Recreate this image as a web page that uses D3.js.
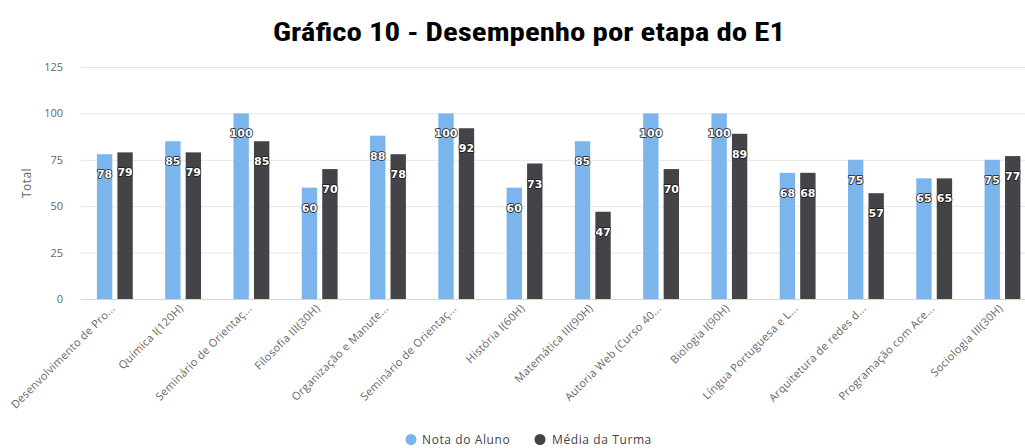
<!DOCTYPE html>
<html>
<head>
<meta charset="utf-8">
<script src="https://cdn.jsdelivr.net/npm/d3@7"></script>
<style>
  html, body { margin: 0; padding: 0; background: #fff; }
  svg { display: block; }
</style>
</head>
<body>
<svg id="chart" width="1025" height="448"></svg>
<script>
// Subjects of stage E1 (names truncated as displayed)
const categories = [
  "Desenvolvimento de Pro...", "Química I(120H)", "Seminário de Orientaç...",
  "Filosofia III(30H)", "Organização e Manute...", "Seminário de Orientaç...",
  "História I(60H)", "Matemática III(90H)", "Autoria Web (Curso 40...",
  "Biologia I(90H)", "Língua Portuguesa e L...", "Arquitetura de redes d...",
  "Programação com Ace...", "Sociologia III(30H)"
];
const notaAluno   = [78, 85, 100, 60, 88, 100, 60, 85, 100, 100, 68, 75, 65, 75];
const mediaTurma  = [79, 79, 85, 70, 78, 92, 73, 47, 70, 89, 68, 57, 65, 77];
const seriesNames = ["Nota do Aluno", "Média da Turma"];
const yTicks = [0, 25, 50, 75, 100, 125];

const colors = ["#7cb5ec", "#434348"];
const series = [notaAluno, mediaTurma];

const svg = d3.select("#chart");
const W = 1025, H = 448;

// plot area
const plotLeft = 80.7, band = 68.28;
const plotTop = 67, plotBottom = 299;
const plotRight = plotLeft + band * categories.length;

const x = d3.scaleBand()
  .domain(d3.range(categories.length))
  .range([plotLeft, plotRight])
  .padding(0);

const inner = d3.scaleBand()
  .domain(d3.range(series.length))
  .range([band * 0.2, band * 0.8])
  .paddingInner(0.25)
  .paddingOuter(0.125);

const y = d3.scaleLinear().domain([0, 125]).range([plotBottom, plotTop]);

// title
svg.append("text")
  .attr("x", 529).attr("y", 41)
  .attr("text-anchor", "middle")
  .attr("font-family", "'Liberation Sans Narrow', 'Roboto Condensed', 'Roboto', sans-serif")
  .attr("font-weight", "bold")
  .attr("font-size", 25)
  .attr("fill", "#000")
  .attr("textLength", 512)
  .attr("lengthAdjust", "spacingAndGlyphs")
  .text("Gráfico 10 - Desempenho por etapa do E1");

// grid lines
svg.append("g").selectAll("line")
  .data(yTicks.filter(t => t > 0))
  .join("line")
  .attr("x1", plotLeft).attr("x2", W)
  .attr("y1", d => y(d) + 0.5).attr("y2", d => y(d) + 0.5)
  .attr("stroke", "#e6e6e6").attr("stroke-width", 1);

// y axis labels
const yAxis = d3.axisLeft(y).tickValues(yTicks).tickSize(0).tickPadding(0);
const gy = svg.append("g").attr("transform", `translate(63,0)`).call(yAxis);
gy.select(".domain").remove();
gy.selectAll("text")
  .attr("font-family", "'Open Sans', 'DejaVu Sans', sans-serif")
  .attr("font-size", 11)
  .attr("fill", "#666");

// y axis title
svg.append("text")
  .attr("transform", `translate(31,${(plotTop + plotBottom) / 2}) rotate(-90)`)
  .attr("text-anchor", "middle")
  .attr("font-family", "'Open Sans', 'DejaVu Sans', sans-serif")
  .attr("font-size", 12)
  .attr("letter-spacing", 0.4)
  .attr("fill", "#666")
  .text("Total");

// bars
const groups = svg.append("g").selectAll("g")
  .data(series)
  .join("g")
  .attr("fill", (d, i) => colors[i]);

groups.each(function (vals, si) {
  d3.select(this).selectAll("rect")
    .data(vals)
    .join("rect")
    .attr("x", (d, i) => x(i) + inner(si))
    .attr("width", inner.bandwidth())
    .attr("y", d => y(d))
    .attr("height", d => plotBottom - y(d));
});

// x axis line
svg.append("line")
  .attr("x1", plotLeft).attr("x2", W)
  .attr("y1", plotBottom + 0.5).attr("y2", plotBottom + 0.5)
  .attr("stroke", "#ccd6eb");

// data labels
series.forEach((vals, si) => {
  svg.append("g").selectAll("text")
    .data(vals)
    .join("text")
    .attr("x", (d, i) => x(i) + inner(si) + inner.bandwidth() / 2)
    .attr("y", d => y(d) + 24)
    .attr("text-anchor", "middle")
    .attr("font-family", "'DejaVu Sans', sans-serif")
    .attr("font-weight", "bold")
    .attr("font-size", 11)
    .attr("fill", "#fff")
    .attr("stroke", "#1a1a1a")
    .attr("stroke-width", 1.6)
    .attr("stroke-linejoin", "round")
    .attr("paint-order", "stroke")
    .text(d => d);
});

// x axis labels, rotated
svg.append("g").selectAll("text")
  .data(categories)
  .join("text")
  .attr("transform", (d, i) => `translate(${x(i) + band / 2 + 1},${plotBottom + 10}) rotate(-45)`)
  .attr("text-anchor", "end")
  .attr("font-family", "'Open Sans', 'DejaVu Sans', sans-serif")
  .attr("font-size", 11)
  .attr("letter-spacing", 0.3)
  .attr("fill", "#666")
  .text(d => d);

// legend
const legendItems = [
  { name: seriesNames[0], color: colors[0], cx: 411, tx: 422 },
  { name: seriesNames[1], color: colors[1], cx: 540, tx: 552 }
];
const lg = svg.append("g");
legendItems.forEach(it => {
  lg.append("circle").attr("cx", it.cx).attr("cy", 439.5).attr("r", 5.5).attr("fill", it.color);
  lg.append("text")
    .attr("x", it.tx).attr("y", 444)
    .attr("font-family", "'Open Sans', 'DejaVu Sans', sans-serif")
    .attr("font-size", 12)
    .attr("letter-spacing", 0.6)
    .attr("fill", "#444")
    .text(it.name);
});
</script>
</body>
</html>
